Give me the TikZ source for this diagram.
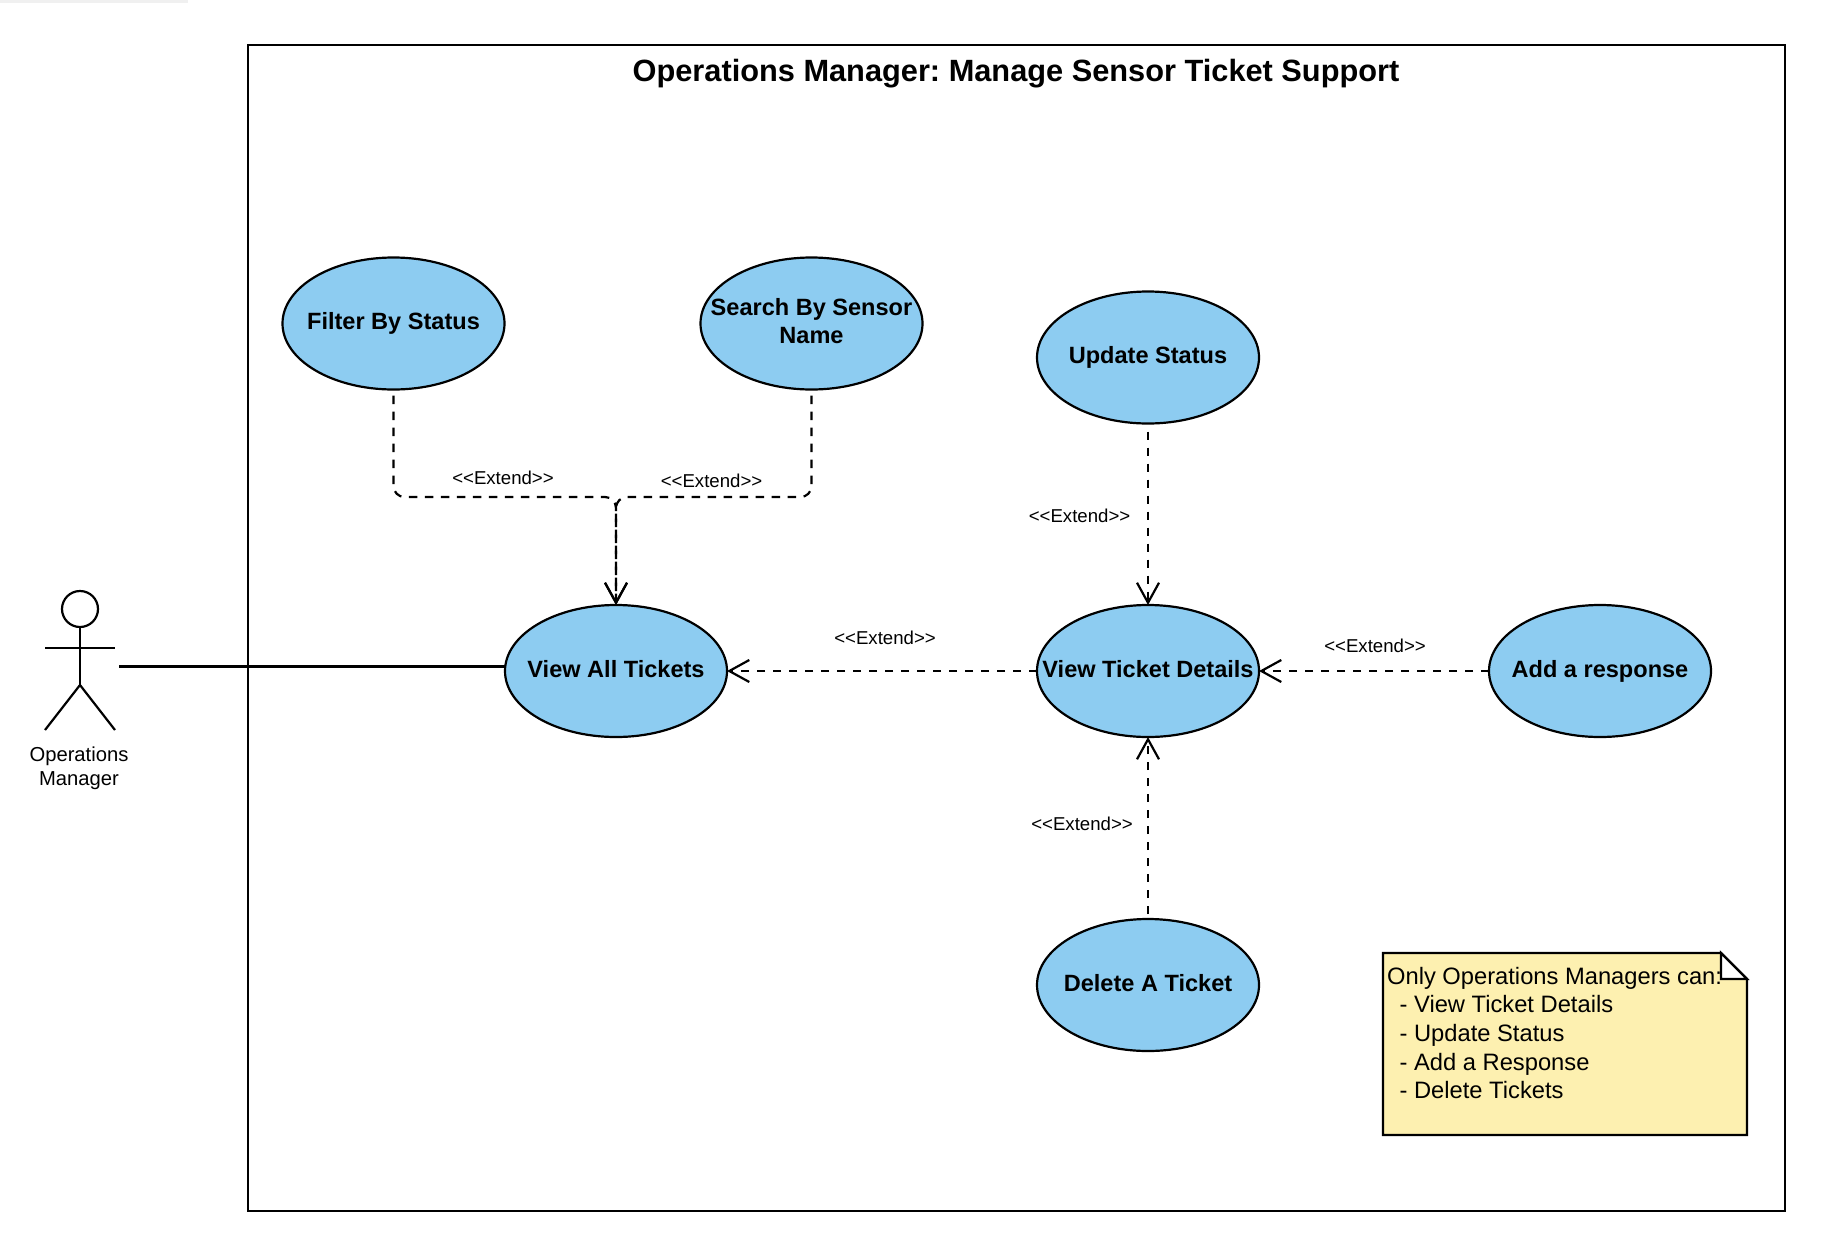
\documentclass[tikz,border=0pt]{standalone}
\usepackage{fontspec}
\setmainfont{Liberation Sans}
\usetikzlibrary{arrows.meta,positioning,shapes.geometric,calc}

\definecolor{caseblue}{RGB}{141,204,241}
\definecolor{noteyellow}{RGB}{253,240,176}

\newcommand{\extendtext}{<{}<Extend>{}>}

\begin{document}
\frenchspacing
\begin{tikzpicture}[
    >={Straight Barb[length=4mm,width=4.4mm]},
    line width=1.25pt,
    usecase/.style={
        ellipse,
        draw=black,
        fill=caseblue,
        minimum width=4.44cm,
        minimum height=2.64cm,
        inner xsep=-0.7cm,
        inner ysep=0pt,
        outer sep=0pt,
        text depth=0.1cm,
        font=\fontsize{13.4}{16}\selectfont\bfseries,
        align=center
    },
    extendline/.style={
        ->,
        dash pattern=on 0.17cm off 0.15cm,
        rounded corners=0.22cm
    },
    extendlabel/.style={
        font=\fontsize{10.6}{13}\selectfont
    }
]

% Page margin and system frame
\useasboundingbox (0,0) rectangle (36.52,-25.08);
\fill[black!6,line width=0pt] (0,0) rectangle (3.76,-0.06);
\draw (4.96,-0.9) rectangle (35.7,-24.22);
\node[font=\fontsize{17.5}{21}\selectfont\bfseries] (title) at (20.32,-1.48) {Operations Manager: Manage Sensor Ticket Support};

% Use cases
\node[usecase] (filter) at (7.87,-6.47) {Filter By Status};
\node[usecase] (search) at (16.23,-6.47) {Search By Sensor\\Name};
\node[usecase] (update) at (22.96,-7.15) {Update Status};
\node[usecase] (viewall) at (12.32,-13.42) {View All Tickets};
\node[usecase] (details) at (22.96,-13.42) {View Ticket Details};
\node[usecase] (response) at (32,-13.42) {Add a response};
\node[usecase] (delete) at (22.96,-19.7) {Delete A Ticket};

% Actor
\node[circle,draw,minimum size=0.72cm,inner sep=0pt,outer sep=0pt] (head) at (1.6,-12.18) {};
\coordinate (hip) at (1.6,-13.7);
\draw (head.south) -- (hip);
\draw (0.9,-12.96) -- (2.3,-12.96);
\draw (0.9,-14.6) -- (hip) -- (2.3,-14.6);
\node[font=\fontsize{11.5}{13.9}\selectfont,align=center] (actorname) at (1.58,-15.36) {Operations\\Manager};
\coordinate (actorhand) at (2.38,-13.33);
\draw (actorhand) -- (actorhand -| viewall.west);

% Extend arrows
\coordinate (merge) at (viewall.north |- 0,-9.94);
\draw[extendline,shorten <=0.12cm] (filter.south) |- (merge) -- (viewall.north);
\draw[extendline,shorten <=0.12cm] (search.south) |- (merge) -- (viewall.north);
\draw[extendline,shorten <=0.16cm] (update) -- (details);
\draw[extendline] (details) -- (viewall);
\draw[extendline] (response) -- (details);
\draw[extendline,shorten <=0.1cm] (delete) -- (details);

\node[extendlabel] (extfilter) at (10.06,-9.55) {\extendtext};
\node[extendlabel] (extsearch) at (14.23,-9.62) {\extendtext};
\node[extendlabel] (extupdate) at (21.59,-10.32) {\extendtext};
\node[extendlabel] (extdetails) at (17.7,-12.76) {\extendtext};
\node[extendlabel] (extresponse) at (27.5,-12.92) {\extendtext};
\node[extendlabel] (extdelete) at (21.64,-16.48) {\extendtext};

% Note
\draw[fill=noteyellow] (27.66,-19.06) -- (34.42,-19.06) -- (34.94,-19.58) -- (34.94,-22.7) -- (27.66,-22.7) -- cycle;
\draw[fill=white] (34.42,-19.06) -- (34.42,-19.58) -- (34.94,-19.58) -- cycle;
\node[font=\fontsize{13.5}{16.3}\selectfont,align=left,anchor=north west,inner sep=0pt] (notetext) at (27.72,-19.32)
    {Only Operations Managers can:\\\hspace{0.25cm}- View Ticket Details\\\hspace{0.25cm}- Update Status\\\hspace{0.25cm}- Add a Response\\\hspace{0.25cm}- Delete Tickets};

\end{tikzpicture}
\end{document}
